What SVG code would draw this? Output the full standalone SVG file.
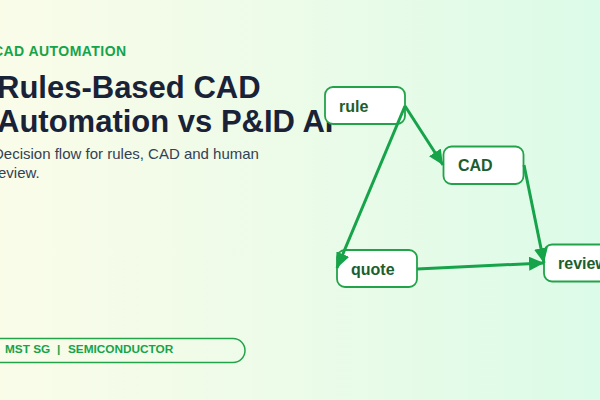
<svg xmlns="http://www.w3.org/2000/svg" width="600" height="400" viewBox="0 0 600 400">
  <defs>
    <linearGradient id="bg" x1="0" y1="0" x2="1" y2="0">
      <stop offset="0" stop-color="#fafce8"/>
      <stop offset="1" stop-color="#dcfbe8"/>
    </linearGradient>
    <marker id="arrow" markerUnits="userSpaceOnUse" markerWidth="16" markerHeight="14" refX="15" refY="7" orient="auto">
      <path d="M0,0 L15,7 L0,14 Z" fill="#16a34a"/>
    </marker>
    <style>
      .node rect { fill: #ffffff; stroke: #22a34a; stroke-width: 1.8; }
      .node text { font-family: "Liberation Sans", Arial, sans-serif; font-weight: bold; font-size: 16px; fill: #1b5e30; }
      .edge { stroke: #16a34a; stroke-width: 3; fill: none; marker-end: url(#arrow); }
      .sans { font-family: "Liberation Sans", Arial, sans-serif; }
      .foot { font-family: "Liberation Sans", Arial, sans-serif; font-size: 11.8px; font-weight: bold; fill: #16a34a; }
    </style>
  </defs>
  <rect x="0" y="0" width="600" height="400" fill="url(#bg)"/>

  <text class="sans" x="-7" y="56" font-size="14" font-weight="bold" letter-spacing="0.45" fill="#16a34a">CAD AUTOMATION</text>
  <text class="sans" x="-3" y="98" font-size="31" font-weight="bold" fill="#1a2238">Rules-Based CAD</text>
  <text class="sans" x="-3" y="131.5" font-size="31" font-weight="bold" fill="#1a2238">Automation vs P&amp;ID AI</text>
  <text class="sans" x="-7" y="159" font-size="15" fill="#334155">Decision flow for rules, CAD and human</text>
  <text class="sans" x="-7" y="178" font-size="15" fill="#334155">review.</text>

  <g id="footer">
    <rect x="-20" y="338.5" width="265" height="24" rx="12" fill="none" stroke="#22a34a" stroke-width="1.5"/>
    <text class="foot" x="5" y="353">MST SG</text>
    <text class="foot" x="57" y="353">|</text>
    <text class="foot" x="68" y="353">SEMICONDUCTOR</text>
  </g>

  <g id="node-rule" class="node">
    <rect x="325" y="87" width="80" height="37" rx="8"/>
    <text x="339" y="112">rule</text>
  </g>
  <g id="node-cad" class="node">
    <rect x="443.5" y="146.5" width="80" height="37.5" rx="8"/>
    <text x="458" y="171">CAD</text>
  </g>
  <g id="node-quote" class="node">
    <rect x="337" y="250" width="80" height="37" rx="8"/>
    <text x="351" y="275">quote</text>
  </g>
  <g id="node-review" class="node">
    <rect x="544" y="244.5" width="80" height="37" rx="8"/>
    <text x="558" y="269">review</text>
  </g>

  <g id="connectors">
    <path class="edge" d="M405,106 L443,165"/>
    <path class="edge" d="M405,106 L337,268"/>
    <path class="edge" d="M524,165 L544,263"/>
    <path class="edge" d="M417,269 L544,263"/>
  </g>
</svg>
